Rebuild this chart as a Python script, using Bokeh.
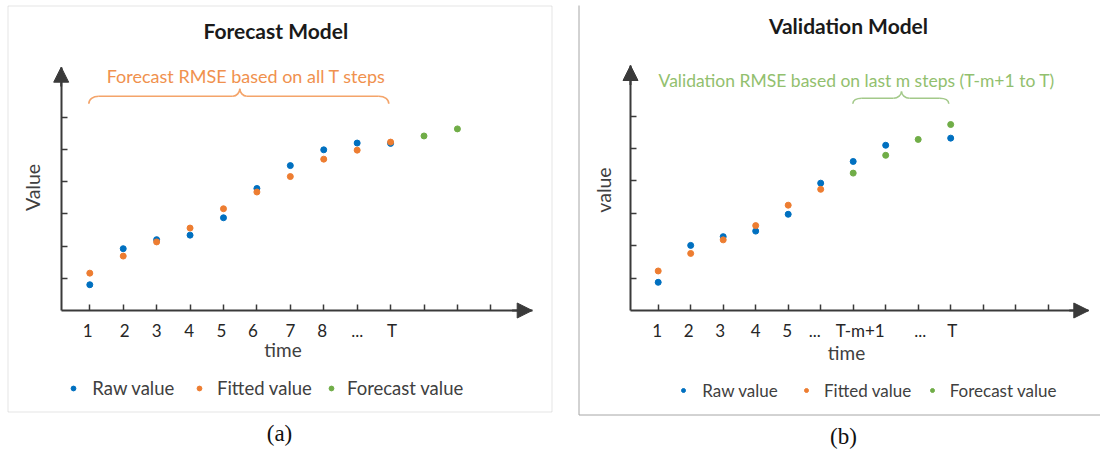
from bokeh.plotting import figure
from bokeh.layouts import row
from bokeh.models import (Range1d, LinearAxis, FixedTicker, Label, Arrow, NormalHead,
                          BoxAnnotation, Legend, LegendItem)
from bokeh.core.properties import value
from bokeh.embed import file_html
from bokeh.resources import INLINE

# ---------------- data ----------------
tick_steps = list(range(1, 14))
y_ticks = [1, 2, 3, 4, 5, 6]

fc_time = [1, 2, 3, 4, 5, 6, 7, 8, 9, 10]
fc_raw = [0.80, 1.92, 2.20, 2.34, 2.88, 3.79, 4.50, 4.99, 5.20, 5.19]
fc_fitted = [1.16, 1.69, 2.13, 2.56, 3.16, 3.68, 4.16, 4.70, 4.98, 5.23]
fc_forecast_time = [11, 12]
fc_forecast = [5.42, 5.64]
fc_tick_labels = ["1", "2", "3", "4", "5", "6", "7", "8", "...", "T", "", "", ""]

va_raw_time = [1, 2, 3, 4, 5, 6, 7, 8, 10]
va_raw = [0.87, 2.01, 2.28, 2.45, 2.97, 3.93, 4.60, 5.10, 5.32]
va_fitted_time = [1, 2, 3, 4, 5, 6]
va_fitted = [1.22, 1.76, 2.18, 2.62, 3.25, 3.74]
va_forecast_time = [7, 8, 9, 10]
va_forecast = [4.24, 4.79, 5.28, 5.74]
va_tick_labels = ["1", "2", "3", "4", "5", "...", "T-m+1", "", "...", "T", "", "", ""]

legend_names = ["Raw value", "Fitted value", "Forecast value"]

# ---------------- style ----------------
C_RAW = "#0070C0"
C_FIT = "#ED7D31"
C_FC = "#70AD47"
C_AXIS = "#3A3A3A"
C_TEXT = "#404040"
FONT = "Lato"
H = 450
# small horizontal nudges (px) of tick labels relative to their ticks
fc_label_nudge = [-2, 1.5, 0, -1, -2, -4, 0, -1.5, 0, 1.5, 0, 0, 0]
va_label_nudge = [-1, -2, -3, 0, -1, -6, 7, 0, 2, 1.5, 0, 0, 0]


class Panel:
    def __init__(self, ox, W, tick1_px, sx, axis_py, sy):
        self.ox, self.W = ox, W
        self.tick1_px, self.sx, self.axis_py, self.sy = tick1_px, sx, axis_py, sy
        p = figure(width=W, height=H,
                   x_range=Range1d(self.dx(ox), self.dx(ox + W)),
                   y_range=Range1d(self.dy(H), self.dy(0)),
                   min_border=0, x_axis_type=None, y_axis_type=None,
                   toolbar_location=None, output_backend="svg")
        p.outline_line_color = None
        p.background_fill_color = "white"
        p.border_fill_color = "white"
        self.p = p

    # reference-pixel -> data helpers (layout of texts / decorations)
    def dx(self, px):
        return 1 + (px - self.tick1_px) / self.sx

    def dy(self, py):
        return (self.axis_py - py) / self.sy

    def label(self, px, py, text, size, color=C_TEXT, bold=False, angle=0, font=FONT):
        self.p.add_layout(Label(x=self.dx(px), y=self.dy(py), text=text,
                                text_align="center", text_baseline="middle",
                                text_font=font, text_font_size=size,
                                text_font_style="bold" if bold else "normal",
                                text_color=color, angle=angle))

    def axes(self, labels, nudge, yaxis_px, xtip_px, ytip_py, label_py, label_size):
        p = self.p
        x_loc = self.dx(yaxis_px)
        x_end = self.dx(xtip_px)
        y_end = self.dy(ytip_py)
        common = dict(axis_line_color=C_AXIS, axis_line_width=2,
                      major_tick_in=6, major_tick_out=0,
                      major_tick_line_color=C_AXIS, major_tick_line_width=1.5,
                      major_label_text_font_size="0px", major_label_standoff=0,
                      major_label_text_alpha=0)
        xa = LinearAxis(fixed_location=0, bounds=(x_loc, x_end),
                        ticker=FixedTicker(ticks=tick_steps, minor_ticks=[]), **common)
        p.add_layout(xa, "below")
        ya = LinearAxis(fixed_location=x_loc, bounds=(0, y_end),
                        ticker=FixedTicker(ticks=y_ticks, minor_ticks=[]), **common)
        p.add_layout(ya, "left")
        head = dict(size=15, fill_color=C_AXIS, line_color=C_AXIS)
        p.add_layout(Arrow(end=NormalHead(**head), x_start=x_end - 0.6, y_start=0,
                           x_end=x_end, y_end=0, line_color=C_AXIS, line_width=2))
        p.add_layout(Arrow(end=NormalHead(**head), x_start=x_loc, y_start=y_end - 0.6,
                           x_end=x_loc, y_end=y_end, line_color=C_AXIS, line_width=2))
        # tick labels at the tick positions
        p.text(x=tick_steps, y=[self.dy(label_py)] * len(tick_steps), text=labels,
               x_offset=nudge,
               text_align="center", text_baseline="middle",
               text_font=value(FONT), text_font_size=label_size, text_color="#262626")

    def brace(self, x0, x1, xm, ye, yh, yp, re, rm, color):
        X0, X1, XM = self.dx(x0), self.dx(x1), self.dx(xm)
        YE, YH, YP = self.dy(ye), self.dy(yh), self.dy(yp)
        RE, RM = re / self.sx, rm / self.sx
        self.p.segment(x0=[X0 + RE, XM + RM], y0=[YH, YH], x1=[XM - RM, X1 - RE], y1=[YH, YH],
                       line_color=color, line_width=1.6)
        self.p.bezier(x0=[X0, XM - RM, XM + RM, X1], y0=[YE, YH, YH, YE],
                      x1=[X0 + RE, XM, XM, X1 - RE], y1=[YH, YP, YP, YH],
                      cx0=[X0, XM - RM * 0.45, XM + RM * 0.45, X1],
                      cy0=[YE + (YH - YE) * 0.6, YH, YH, YE + (YH - YE) * 0.6],
                      cx1=[X0 + RE * 0.4, XM, XM, X1 - RE * 0.4],
                      cy1=[YH, YH + (YP - YH) * 0.5, YH + (YP - YH) * 0.5, YH],
                      line_color=color, line_width=1.6)

    def legend(self, renderer, name, dot_px, text_px, cy_px, size, glyph, hleg):
        vx = (dot_px - glyph / 2) - self.ox
        vy = H - (cy_px + hleg / 2)
        lg = Legend(items=[LegendItem(label=name, renderers=[renderer])],
                    location=(vx, vy), orientation="horizontal",
                    glyph_width=glyph, glyph_height=glyph,
                    label_standoff=int(round(text_px - dot_px - glyph / 2)),
                    label_text_font=FONT, label_text_font_size=size,
                    label_text_color=C_TEXT, padding=0, margin=0, spacing=0,
                    background_fill_alpha=0, border_line_alpha=0)
        self.p.add_layout(lg)


# ---------------- panel (a) ----------------
A = Panel(ox=0, W=560, tick1_px=89.3, sx=33.42, axis_py=310, sy=32.2)
pa = A.p
pa.add_layout(BoxAnnotation(left=A.dx(7.5), right=A.dx(551.5), top=A.dy(5.5), bottom=A.dy(411.5),
                            fill_alpha=0, line_color="#A6A6A6", line_width=1))
A.axes(fc_tick_labels, fc_label_nudge, 60.7, 531.7, 66.7, 330, "17px")
ra = pa.scatter(fc_time, fc_raw, size=6, color=C_RAW, marker="circle")
fa = pa.scatter(fc_time, fc_fitted, size=6, color=C_FIT, marker="circle")
ga = pa.scatter(fc_forecast_time, fc_forecast, size=6, color=C_FC, marker="circle")
A.brace(88.3, 388.3, 239.3, 103.3, 95.7, 88.3, 10, 7, "#F4A46A")
A.label(275.3, 29.5, "Forecast Model", "21px", color="#1A1A1A", bold=True)
A.label(245.8, 75, "Forecast RMSE based on all T steps", "18px", color="#F0914E")
A.label(31.5, 187, "Value", "19.5px", angle=1.5707963)
A.label(282.5, 349, "time", "19px")
A.label(279, 433, "(a)", "23px", color="#111111", font="Liberation Serif")
A.legend(ra, legend_names[0], 73.3, 92.7, 388, "18.5px", 12, 22)
A.legend(fa, legend_names[1], 199, 217.3, 388, "18.5px", 12, 22)
A.legend(ga, legend_names[2], 331, 346.7, 388, "18.5px", 12, 22)

# ---------------- panel (b) ----------------
Bp = Panel(ox=560, W=540, tick1_px=657.7, sx=32.5, axis_py=310, sy=32.4)
pb = Bp.p
pb.segment(x0=[Bp.dx(578.5), Bp.dx(578.5)], y0=[Bp.dy(5), Bp.dy(414.5)],
           x1=[Bp.dx(578.5), Bp.dx(1100)], y1=[Bp.dy(414.5), Bp.dy(414.5)],
           line_color="#A6A6A6", line_width=1)
Bp.axes(va_tick_labels, va_label_nudge, 630, 1088.3, 65, 330, "17px")
rb = pb.scatter(va_raw_time, va_raw, size=6, color=C_RAW, marker="circle")
fb = pb.scatter(va_fitted_time, va_fitted, size=6, color=C_FIT, marker="circle")
gb = pb.scatter(va_forecast_time, va_forecast, size=6, color=C_FC, marker="circle")
Bp.brace(852.3, 948.3, 901, 103.3, 97.7, 91, 9, 8, "#A3C98A")
Bp.label(848, 25, "Validation Model", "21px", color="#1A1A1A", bold=True)
Bp.label(856.2, 80, "Validation RMSE based on last m steps (T-m+1 to T)", "17.5px", color="#92C06E")
Bp.label(602.5, 189.5, "value", "19.5px", angle=1.5707963)
Bp.label(846, 352, "time", "19px")
Bp.label(843, 436, "(b)", "23px", color="#111111", font="Liberation Serif")
Bp.legend(rb, legend_names[0], 683.3, 702.7, 390, "17px", 10, 21)
Bp.legend(fb, legend_names[1], 806, 824, 390, "17px", 10, 21)
Bp.legend(gb, legend_names[2], 931.7, 949.3, 390, "17px", 10, 21)

layout = row(pa, pb)
open("out.html", "w").write(file_html(layout, INLINE))
